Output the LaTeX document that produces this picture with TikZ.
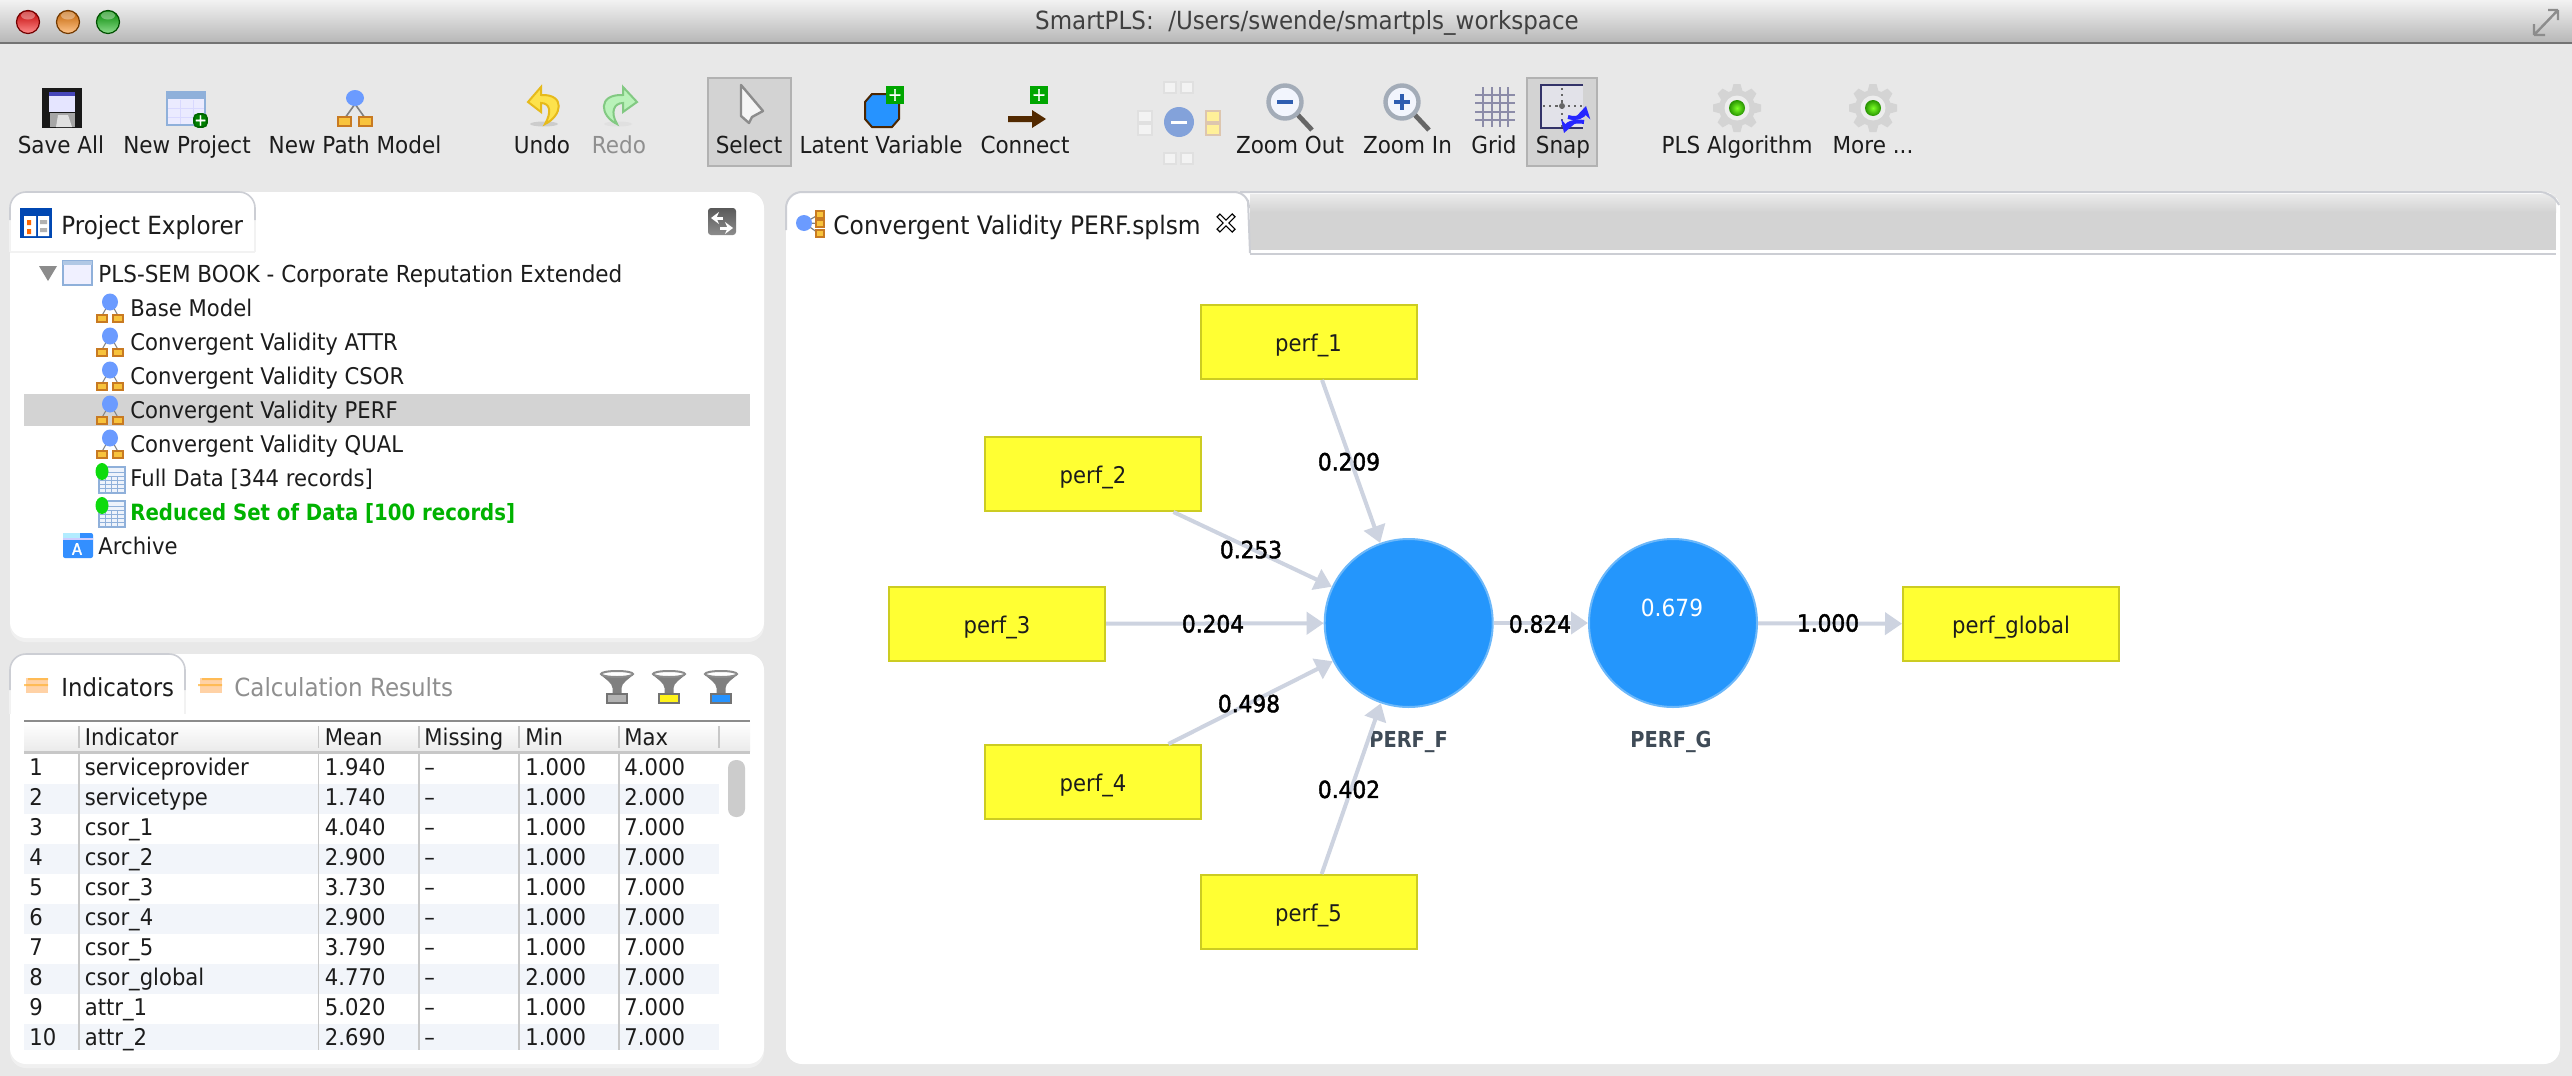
\documentclass[tikz,border=0pt]{standalone}
\usepackage{fontspec}
\setmainfont[FakeStretch=0.92]{DejaVu Sans}
\newfontfamily\lblfont[FakeStretch=0.92,FakeBold=1.8]{DejaVu Sans}
\newfontfamily\latfont[FakeStretch=0.88]{DejaVu Sans}
\usetikzlibrary{arrows.meta}
\definecolor{bgc}{HTML}{E8E8E8}
\definecolor{selc}{HTML}{D3D3D3}
\definecolor{linkc}{HTML}{CDD3E0}
\definecolor{indc}{HTML}{FFFF33}
\definecolor{indb}{HTML}{CCCC22}
\definecolor{latc}{HTML}{2496FC}
\definecolor{latb}{HTML}{6CB8FA}
\definecolor{txtc}{HTML}{1C1C1C}
\definecolor{grayt}{HTML}{8F8F8F}
\definecolor{stripe}{HTML}{F2F5FA}
\definecolor{colsep}{HTML}{C8C8C8}
\definecolor{tabb}{HTML}{CCCED4}
\definecolor{headb}{HTML}{6B9BFF}
\definecolor{orangeb}{HTML}{C87A22}
\definecolor{orangef}{HTML}{F8C33C}
\definecolor{sheetb}{HTML}{8FB0DA}
\definecolor{sheetf}{HTML}{EEF3FB}
\definecolor{latl}{HTML}{3F4B57}
\definecolor{gridc}{HTML}{8C8CA8}
\definecolor{lensb}{HTML}{2E5DB0}
\definecolor{lensr}{HTML}{A3ACB8}
\definecolor{lensf}{HTML}{F2F5FD}
\newcommand{\fs}[1]{\fontsize{#1}{#1}\selectfont}
\tikzset{
  txt/.style={inner sep=0pt,text=txtc,font=\fs{11.5}},
  lft/.style={txt,anchor=mid west,yshift=-1.4pt},
  tool/.style={txt,anchor=mid,font=\fs{11.7},yshift=-0.8pt},
  cellt/.style={txt,anchor=mid west,yshift=-0.8pt},
  indbox/.style={draw=indb,line width=1pt,fill=indc,minimum width=108pt,minimum height=37pt,inner sep=0pt,font=\fs{11.5},text=txtc,rectangle,text height=11pt,text depth=1.8pt},
  latvar/.style={circle,draw=latb,line width=1pt,fill=latc,minimum size=84pt,inner sep=0pt},
  link/.style={draw=linkc,line width=2pt,-{Triangle[length=8.5pt,width=11pt,fill=linkc]},shorten >=0pt},
  elbl/.style={inner sep=0pt,font=\lblfont\fs{11.8},text=black},
  latlbl/.style={inner sep=0pt,font=\latfont\bfseries\fs{11},text=latl},
  panel/.style={fill=white,rounded corners=8pt},
  shadowp/.style={fill=black!6,rounded corners=8pt},
}
\newcommand{\light}[2]{%
  \shade[top color=#2!75!black,bottom color=#2!45!white] (#1,22) circle (11.5);
  \draw[#2!45!black,line width=.6pt] (#1,22) circle (11.5);
  \fill[white,opacity=.35] (#1,15.5) ellipse (7 and 4);}
\newcommand{\modelicon}[2]{%
  \begin{scope}[shift={(#1,#2)}]
    \draw[gray,line width=.5pt] (0,8) -- (-8,22) (0,8) -- (8,22);
    \fill[headb] (0,8.5) ellipse (8 and 8.5);
    \draw[orangeb,fill=orangef,line width=1pt] (-13,21.5) rectangle (-3,28);
    \draw[orangeb,fill=orangef,line width=1pt] (3,21.5) rectangle (13,28);
  \end{scope}}
\newcommand{\dataicon}[2]{%
  \begin{scope}[shift={(#1,#2)}]
    \draw[sheetb,fill=sheetf,line width=1pt] (3,4) rectangle (29,30);
    \foreach \yy in {9,13,17,21,25} \draw[sheetb,line width=.4pt] (3,\yy) -- (29,\yy);
    \foreach \xx in {10,16,22} \draw[sheetb,line width=.4pt] (\xx,13) -- (\xx,30);
    \fill[green!85!black!95!white] (6.5,8.5) ellipse (6.5 and 8.5);
  \end{scope}}
\newcommand{\funnel}[2]{%
  \begin{scope}[shift={(#1,671)}]
    \fill[black!50] (-17,3) .. controls (-12,8) and (-4.5,12) .. (-4.5,17) -- (-4.5,22) -- (4.5,22) -- (4.5,17) .. controls (4.5,12) and (12,8) .. (17,3) -- cycle;
    \draw[black!45,fill=white,line width=1pt] (0,3) ellipse (16 and 3);
    \draw[black!55,fill=#2,line width=1.2pt] (-10,23) rectangle (10,32);
  \end{scope}}
\newcommand{\gearicon}[1]{%
  \begin{scope}[shift={(#1,108)}]
    \foreach \aa in {0,45,...,315}
      \fill[black!17,rotate=\aa] (-6,15) -- (-3.5,24) -- (3.5,24) -- (6,15) -- cycle;
    \fill[black!17] (0,0) circle (18);
    \fill[black!7] (0,0) circle (12.5);
    \shade[inner color=green!60!yellow!85!white,outer color=green!50!black!85!yellow] (0,0) circle (8);
  \end{scope}}
\newcommand{\lens}[2]{%
  \begin{scope}[shift={(#1,0)}]
    \draw[black!60,line width=2.4pt] (12,114) -- (27,130);
    \draw[lensr,fill=lensf,line width=2.2pt] (0,102) circle (16.5);
    #2
  \end{scope}}
\begin{document}
\begin{tikzpicture}[x=0.5pt,y=-0.5pt]
\useasboundingbox (0,0) rectangle (2572,1076);
\fill[bgc] (0,0) rectangle (2572,1076);
% title bar
\shade[top color=black!5,bottom color=black!28] (0,0) rectangle (2572,42);
\fill[black!55] (0,42) rectangle (2572,44);
\light{28}{red}
\light{68}{orange}
\light{108}{green!70!black}
\node[txt,font=\fs{12.5},text=black!75] (title) at (1307,23) {SmartPLS:\ \ /Users/swende/smartpls\_workspace};
\draw[black!45,line width=1.2pt] (2534,35) -- (2534,24) (2534,35) -- (2545,35) (2558,10) -- (2558,20) (2558,10) -- (2548,10) (2534,35) -- (2558,10);
% toolbar
\fill[selc] (708,78) rectangle (791,166);
\draw[black!30,line width=1pt] (708,78) rectangle (791,166);
\fill[selc] (1527,78) rectangle (1597,166);
\draw[black!30,line width=1pt] (1527,78) rectangle (1597,166);
\foreach \xx/\lab/\nn in {61/Save All/a,187/New Project/b,355/New Path Model/c,542/Undo/d,749/Select/f,881/Latent Variable/g,1025/Connect/h,1290/Zoom Out/i,1407.5/Zoom In/j,1494/Grid/k,1563/Snap/l,1737/PLS Algorithm/m}
  \node[tool] (tb\nn) at (\xx,146) {\lab};
\node[tool] (tbn) at (1873,146) {More ...};
\node[tool,text=grayt] (tbe) at (619,146) {Redo};
% save icon
\fill[black!90] (42,88) rectangle (82,128);
\fill[white!90!blue] (49,92) rectangle (75,112);
\fill[blue!45!gray] (49,92) rectangle (75,96);
\fill[black!35] (50,113) rectangle (75,127);
\fill[black!12] (58,115) -- (68,115) -- (72,127) -- (56,127) -- cycle;
% new project icon
\draw[sheetb,fill=white!92!blue,line width=1.2pt] (167,92) rectangle (205,125);
\fill[sheetb] (167,92) rectangle (205,99);
\foreach \yy in {108,117} \draw[blue!15,line width=.5pt] (168,\yy) -- (204,\yy);
\foreach \xx in {180,193} \draw[blue!15,line width=.5pt] (\xx,100) -- (\xx,124);
\draw[green!40!black,fill=green!50!black,line width=.8pt,rounded corners=2pt] (194,114) rectangle (207,127);
\node[inner sep=0pt,text=white,font=\lblfont\fs{8}] (npplus) at (200.5,120.5) {+};
% new path model
\draw[gray,line width=.8pt] (355,104) -- (345,118) (355,104) -- (365,118);
\fill[headb] (355,98) ellipse (9 and 8);
\draw[orangeb,fill=orangef,line width=1.2pt] (338,117) rectangle (351,126);
\draw[orangeb,fill=orangef,line width=1.2pt] (359,117) rectangle (372,126);
% undo / redo
\fill[black!20] (544,124) ellipse (14 and 2.5);
\draw[yellow!60!orange!90!black,fill=yellow!75!orange!70!white,line width=1pt] (541,87) -- (528,102) -- (541,112) -- (541,103) .. controls (550,103) and (552,112) .. (545,124) .. controls (562,116) and (566,94) .. (541,95) -- cycle;
\fill[black!12] (618,124) ellipse (14 and 2.5);
\draw[green!40!gray!70!white,fill=green!25!white!90!gray,line width=1pt] (623,87) -- (637,102) -- (623,112) -- (623,103) .. controls (614,103) and (610,112) .. (617,124) .. controls (600,116) and (597,94) .. (623,95) -- cycle;
% select cursor
\draw[black!45,fill=black!4,line width=1.2pt,line join=round] (741,85) -- (763,111) -- (752,117) -- (749,123) -- (741,116) -- cycle;
% latent variable icon
\draw[black!70!orange,fill=blue!50!cyan!85!white,line width=1pt] (872,94) -- (892,94) -- (899,102) -- (899,119) -- (892,127) -- (872,127) -- (865,119) -- (865,102) -- cycle;
\fill[green!65!black] (886,86) rectangle (904,104);
\node[inner sep=0pt,text=white,font=\lblfont\fs{9}] (lvplus) at (895,95) {+};
% connect icon
\fill[green!65!black] (1030,86) rectangle (1048,104);
\node[inner sep=0pt,text=white,font=\lblfont\fs{9}] (cnplus) at (1039,95) {+};
\fill[black!60!orange!80!black] (1008,116) -- (1032,116) -- (1032,110) -- (1046,119) -- (1032,128) -- (1032,122) -- (1008,122) -- cycle;
% layout icon
\fill[cyan!45!blue!50!white] (1179,122) circle (15);
\fill[white] (1171,121) rectangle (1187,123.5);
\foreach \xa/\ya in {1164/82,1181/82,1164/153,1181/153} \draw[black!12,fill=white!50!bgc,line width=.8pt] (\xa,\ya) rectangle ++(12,11);
\foreach \ya in {111,124} \draw[black!12,fill=white!50!bgc,line width=.8pt] (1138,\ya) rectangle ++(14,11);
\foreach \ya in {111,124} \draw[orange!40!gray!45!white,fill=orange!30!yellow!40!white,line width=.8pt] (1206,\ya) rectangle ++(14,11);
% zoom lenses
\lens{1285}{\fill[lensb] (-8,100) rectangle (8,104);}
\lens{1402}{\fill[lensb] (-8,100) rectangle (8,104);\fill[lensb] (-2,94) rectangle (2,110);}
% grid
\foreach \xx in {1483,1492,1500,1508} \draw[gridc,line width=1.3pt] (\xx,87) -- (\xx,127);
\foreach \yy in {95,103,112,120} \draw[gridc,line width=1.3pt] (1475,\yy) -- (1515,\yy);
% snap
\fill[white!55!blue!6!bgc] (1541,85) rectangle (1583,128);
\draw[black!65!blue!60!gray,line width=1.1pt] (1583,85) -- (1541,85) -- (1541,128) -- (1583,128);
\draw[black!60,dotted,line width=1.1pt] (1562,88) -- (1562,128) (1543,106) -- (1583,106);
\fill[black!60] (1562,106) circle (3);
\draw[blue!85!white,line width=2pt,-{Stealth[length=6pt,width=7pt]}] (1568,117) .. controls (1578,120) and (1584,115) .. (1586,106);
\draw[blue!85!white,line width=2pt,-{Stealth[length=6pt,width=7pt]}] (1584,122) .. controls (1575,120) and (1567,124) .. (1564,133);
% gears
\gearicon{1737}
\gearicon{1873}
% project explorer panel
\fill[shadowp] (10,195) rectangle (764,642);
\fill[panel] (10,192) rectangle (764,638);
\draw[black!5,line width=.6pt] (10,252) -- (255,252) (255,220) -- (255,252) (10,220) -- (10,252);
\draw[tabb,line width=.8pt,rounded corners=8pt] (10,220) -- (10,192) -- (255,192) -- (255,220);
\fill[blue!60!cyan!70!black] (20,208) rectangle (52,238);
\fill[white] (24,216) rectangle (36,236) (38,216) rectangle (49,236);
\fill[orange!80!red] (27,220) rectangle (31,225) (27,229) rectangle (31,234);
\fill[black!30] (40,220) rectangle (47,224) (40,228) rectangle (47,232);
\node[lft,font=\fs{12.5}] (pe) at (61,226) {Project Explorer};
\shade[top color=black!65,bottom color=black!45,rounded corners=1.5pt] (708,208) rectangle (736,235);
\draw[white,line width=1.5pt,-{Stealth[length=4pt,width=6pt]}] (723,218) -- (711,218);
\draw[white,line width=1.5pt,-{Stealth[length=4pt,width=6pt]}] (720,228) -- (733,228);
\fill[selc] (24,394) rectangle (750,426);
\fill[black!45] (39,266) -- (57,266) -- (48,281) -- cycle;
\draw[sheetb,fill=white!94!blue,line width=1.2pt] (63,261) rectangle (92,285);
\fill[sheetb!70!white] (63,261) rectangle (92,265);
\node[lft,font=\fs{11.7}] (root) at (98,274) {PLS-SEM BOOK - Corporate Reputation Extended};
\foreach \yc/\lab/\nn in {308/Base Model/a,342/Convergent Validity ATTR/b,376/Convergent Validity CSOR/c,410/Convergent Validity PERF/d,444/Convergent Validity QUAL/e}{
  \modelicon{110}{\yc-14.5}
  \node[lft] (m\nn) at (130,\yc) {\lab};
}
\dataicon{95.5}{463}
\node[lft] (fd) at (130,478) {Full Data [344 records]};
\dataicon{95.5}{497}
\node[lft,font=\latfont\bfseries\fs{11.2},text=green!70!black] (rd) at (130,512) {Reduced Set of Data [100 records]};
\fill[blue!55!cyan!80!white,rounded corners=1pt] (63,533) rectangle (93,558);
\fill[blue!25!cyan!30!white] (63,533) rectangle (80,538);
\draw[white!80!blue,line width=.8pt] (63,539) -- (93,539);
\node[inner sep=0pt,text=white,font=\lblfont\fs{8}] (arch) at (77,549) {A};
\node[lft] (ar) at (98,546) {Archive};
% indicators panel
\fill[shadowp] (10,657) rectangle (764,1068);
\fill[panel] (10,654) rectangle (764,1064);
\draw[black!5,line width=.6pt] (185,690) -- (185,714) (10,690) -- (10,714);
\draw[tabb,line width=.8pt,rounded corners=8pt] (10,690) -- (10,654) -- (185,654) -- (185,690);
\foreach \xx in {24,198}{
  \fill[orange!35!white] (\xx+2,678) rectangle (\xx+24,693);
  \fill[orange!75!yellow!80!white,opacity=.7] (\xx,684) rectangle (\xx+24,686) (\xx+4,678) rectangle (\xx+24,680);
}
\node[lft,font=\fs{12.4}] (tabi) at (61,688.5) {Indicators};
\node[lft,font=\fs{12.5},text=grayt] (tabc) at (234,688.5) {Calculation Results};
\funnel{617}{black!30}
\funnel{669}{yellow!90!white}
\funnel{721}{blue!50!cyan!85!white}
% table
\foreach \nr in {2,4,6,8,10}{
  \pgfmathsetmacro{\rt}{754+30*(\nr-1)}
  \pgfmathsetmacro{\rb}{min(\rt+30,1050)}
  \fill[stripe] (24,\rt) rectangle (719,\rb);
}
\shade[top color=white,bottom color=black!8] (24,722) rectangle (750,751);
\draw[black!45,line width=.8pt] (24,721) -- (750,721);
\draw[black!22,line width=1.2pt] (24,752.5) -- (750,752.5);
\foreach \xx in {79,318.5,419,519,619,719} \draw[colsep,line width=.8pt] (\xx,726) -- (\xx,748);
\foreach \xx in {79,318.5,419,519,619} \draw[colsep,line width=.8pt] (\xx,754) -- (\xx,1050);
\foreach \xx/\lab/\nn in {84.5/Indicator/a,324.5/Mean/b,424/Missing/c,525/Min/d,624/Max/e}
  \node[lft] (h\nn) at (\xx,737) {\lab};
\foreach \n/\nm/\me/\lo/\hi in {1/serviceprovider/1.940/1.000/4.000,2/servicetype/1.740/1.000/2.000,3/csor\_1/4.040/1.000/7.000,4/csor\_2/2.900/1.000/7.000,5/csor\_3/3.730/1.000/7.000,6/csor\_4/2.900/1.000/7.000,7/csor\_5/3.790/1.000/7.000,8/csor\_global/4.770/2.000/7.000,9/attr\_1/5.020/1.000/7.000,10/attr\_2/2.690/1.000/7.000}{
  \pgfmathsetmacro{\ry}{768+30*(\n-1)}
  \node[cellt] (ra\n) at (29,\ry) {\n};
  \node[cellt] (rb\n) at (84.5,\ry) {\nm};
  \node[cellt] (rc\n) at (324.5,\ry) {\me};
  \node[cellt] (rd\n) at (424,\ry) {–};
  \node[cellt] (re\n) at (525,\ry) {\lo};
  \node[cellt] (rf\n) at (624,\ry) {\hi};
}
\fill[black!20,rounded corners=4pt] (728,760) rectangle (745,817);
% editor panel
\fill[panel] (786,192) rectangle (2560,1064);
\fill[selc] (1250,196) rectangle (2556,250);
\shade[top color=black!8,bottom color=selc] (1250,194) rectangle (2556,212);
\fill[white] (1250,250) rectangle (2556,253);
\fill[tabb] (1250,253) rectangle (2556,255);
\draw[tabb,line width=1pt] (1248,200) -- (1250,253);
\draw[tabb,line width=1pt,rounded corners=6pt] (1240,192) -- (2552,192) -- (2559,205);
\draw[tabb,line width=1pt,rounded corners=8pt] (786,230) -- (786,192) -- (1250,192) -- (1249,205);
% tab icon
\draw[gray,line width=.6pt] (804,223) -- (819,214.5) (804,223) -- (819,223.5) (804,223) -- (819,233.5);
\fill[headb] (804,223) circle (8);
\foreach \ya in {211,220,230} \draw[orangeb,fill=orangef,line width=.8pt] (816,\ya) rectangle ++(8,7);
\node[lft,font=\fs{12.7}] (tabm) at (833,226) {Convergent Validity PERF.splsm};
\draw[black,line width=2.6pt] (1218,215) -- (1234,231) (1234,215) -- (1218,231);
\draw[white,line width=1.4pt] (1219,216) -- (1233,230) (1233,216) -- (1219,230);
% path model
\node[indbox] (p1) at (1308.5,342) {perf\_1};
\node[indbox] (p2) at (1093,474) {perf\_2};
\node[indbox] (p3) at (997,624) {perf\_3};
\node[indbox] (p4) at (1093,782) {perf\_4};
\node[indbox] (p5) at (1308.5,912) {perf\_5};
\node[indbox] (pg) at (2011,624) {perf\_global};
\node[latvar] (F) at (1408.7,623) {};
\node[latvar] (G) at (1673,623) {};
\node[inner sep=0pt,font=\fs{11.8},text=white] (r2) at (1672,608) {0.679};
\node[latlbl] (Fl) at (1408.6,742) {PERF\_F};
\node[latlbl] (Gl) at (1671,742) {PERF\_G};
\draw[link] (p1) -- (F);
\draw[link] (p2) -- (F);
\draw[link] (p3) -- (F);
\draw[link] (p4) -- (F);
\draw[link] (p5) -- (F);
\draw[link] (F) -- (G);
\draw[link] (G) -- (pg);
\node[elbl] (e1) at (1349,461.7) {0.209};
\node[elbl] (e2) at (1251,549.6) {0.253};
\node[elbl] (e3) at (1213,623.8) {0.204};
\node[elbl] (e4) at (1249,703.6) {0.498};
\node[elbl] (e5) at (1349,789.4) {0.402};
\node[elbl] (e6) at (1540,624) {0.824};
\node[elbl] (e7) at (1828,623) {1.000};
\end{tikzpicture}
\end{document}
